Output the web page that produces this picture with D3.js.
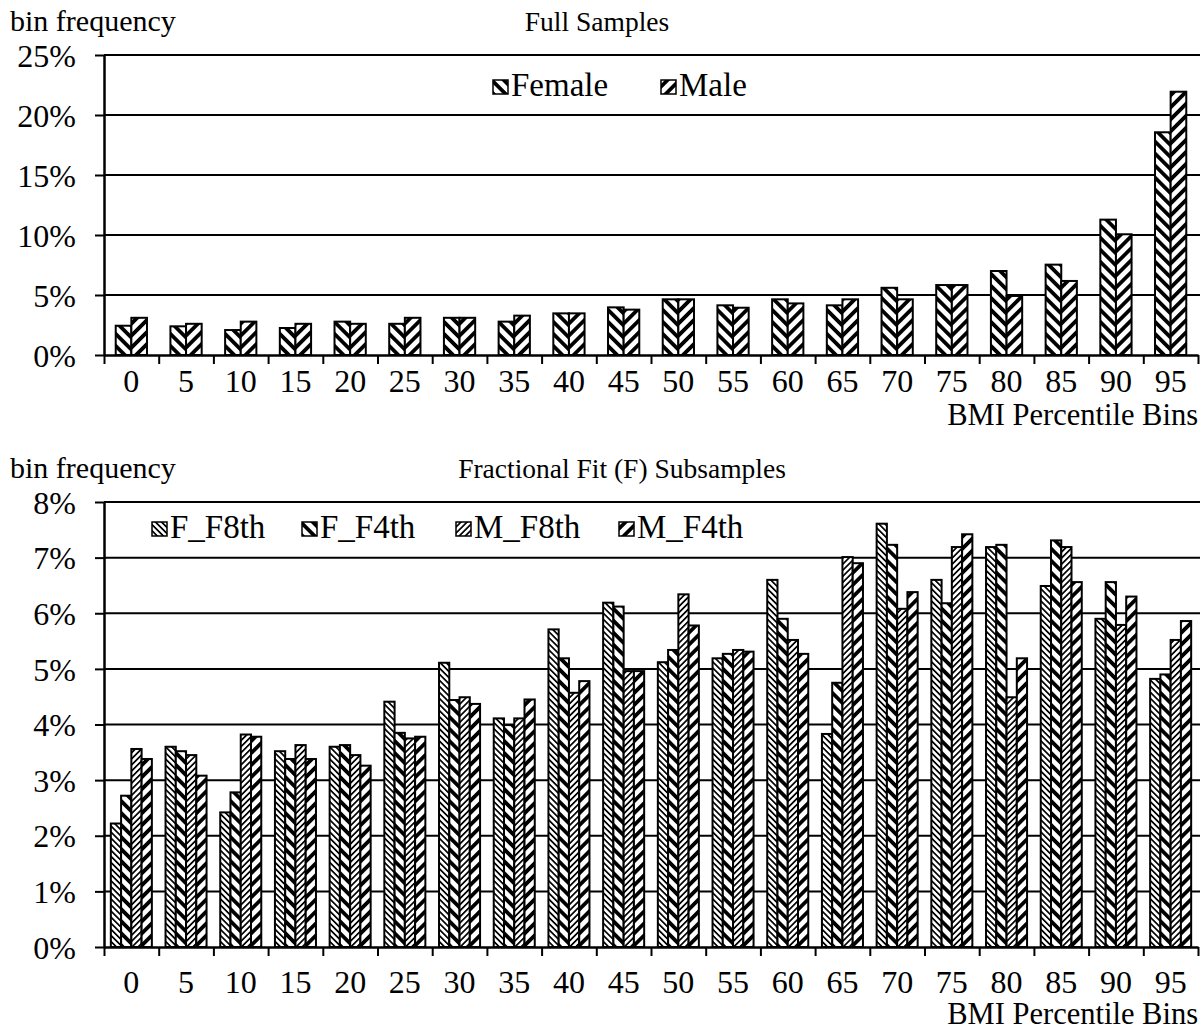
<!DOCTYPE html>
<html>
<head>
<meta charset="utf-8">
<script src="https://cdn.jsdelivr.net/npm/d3@7"></script>
<style>
  body { margin: 0; background: #fff; }
  svg text { font-family: "Liberation Serif", "Times New Roman", serif; fill: #000; }
</style>
</head>
<body>
<div id="chart"></div>
<script>
// BMI percentile bins (x categories)
const bins = [0, 5, 10, 15, 20, 25, 30, 35, 40, 45, 50, 55, 60, 65, 70, 75, 80, 85, 90, 95];

// Full samples, bin frequency in %
const fullFemale = [2.44, 2.39, 2.08, 2.25, 2.78, 2.6, 3.1, 2.78, 3.47, 3.97, 4.64, 4.14, 4.64, 4.14, 5.6, 5.83, 7.0, 7.53, 11.28, 18.56];
const fullMale = [3.1, 2.6, 2.78, 2.6, 2.6, 3.1, 3.1, 3.28, 3.47, 3.78, 4.64, 3.94, 4.3, 4.64, 4.64, 5.83, 4.92, 6.17, 10.06, 21.94];

// Fractional fit subsamples, bin frequency in %
const fF8th = [2.22, 3.6, 2.42, 3.52, 3.6, 4.41, 5.11, 4.11, 5.71, 6.19, 5.12, 5.19, 6.6, 3.83, 7.61, 6.6, 7.19, 6.49, 5.9, 4.82];
const fF4th = [2.72, 3.52, 2.78, 3.38, 3.63, 3.85, 4.44, 3.99, 5.19, 6.12, 5.34, 5.27, 5.9, 4.75, 7.23, 6.18, 7.23, 7.31, 6.56, 4.9];
const mF8th = [3.56, 3.45, 3.82, 3.63, 3.45, 3.75, 4.49, 4.11, 4.57, 4.96, 6.34, 5.34, 5.52, 7.01, 6.08, 7.19, 4.49, 7.19, 5.79, 5.52];
const mF4th = [3.38, 3.08, 3.78, 3.38, 3.26, 3.78, 4.37, 4.45, 4.78, 4.96, 5.78, 5.31, 5.27, 6.9, 6.38, 7.42, 5.19, 6.56, 6.3, 5.86];

const topTicks = [0, 5, 10, 15, 20, 25];
const bottomTicks = [0, 1, 2, 3, 4, 5, 6, 7, 8];

const width = 1203, height = 1030;
const left = 104, right = 1198;

const svg = d3.select("#chart").append("svg")
    .attr("width", width)
    .attr("height", height);

// hatch patterns: "\" = rotate(-45), "/" = rotate(45)
const defs = svg.append("defs");
function hatch(id, angle, period, thick) {
  const p = defs.append("pattern")
      .attr("id", id)
      .attr("patternUnits", "userSpaceOnUse")
      .attr("width", period)
      .attr("height", period)
      .attr("patternTransform", "rotate(" + angle + ")");
  p.append("rect").attr("width", period).attr("height", period).attr("fill", "#fff");
  p.append("rect").attr("width", thick).attr("height", period).attr("fill", "#000");
}
hatch("wideDown", -45, 8.5, 3.8);
hatch("wideUp", 45, 8.5, 3.8);
hatch("narrowDown", -45, 4.3, 1.7);
hatch("narrowUp", 45, 4.3, 1.7);

function drawPanel(opt) {
  const g = svg.append("g");

  const y = d3.scaleLinear().domain(opt.yDomain).range([opt.y0, opt.y1]);
  const x0 = d3.scaleBand().domain(bins).range([left, right]).padding(0);
  const groupW = x0.bandwidth() * opt.groupFrac;
  const x1 = d3.scaleBand().domain(opt.series.map(s => s.name)).range([0, groupW]);

  // gridlines
  g.append("g").selectAll("line")
    .data(opt.ticks.filter(t => t > 0))
    .enter().append("line")
      .attr("x1", left).attr("x2", right + 2)
      .attr("y1", d => y(d)).attr("y2", d => y(d))
      .attr("stroke", "#000").attr("stroke-width", 2);

  // y axis
  const yAxis = g.append("g")
      .attr("transform", "translate(" + left + ",0)")
      .call(d3.axisLeft(y).tickValues(opt.ticks).tickSize(9).tickSizeOuter(0).tickFormat(d => d + "%"));
  yAxis.select(".domain").attr("stroke-width", 2.5);
  yAxis.selectAll(".tick line").attr("stroke-width", 2);
  yAxis.selectAll(".tick text")
      .attr("x", -28).attr("dy", "0.35em")
      .style("font-size", "32px");

  // bars
  const groups = g.append("g").selectAll("g")
    .data(bins.map((b, i) => ({ bin: b, i: i })))
    .enter().append("g")
      .attr("transform", d => "translate(" + (x0(d.bin) + (x0.bandwidth() - groupW) / 2) + ",0)");

  groups.selectAll("rect")
    .data(d => opt.series.map(s => ({ name: s.name, fill: s.fill, v: s.values[d.i] })))
    .enter().append("rect")
      .attr("x", d => x1(d.name))
      .attr("width", x1.bandwidth())
      .attr("y", d => y(d.v))
      .attr("height", d => y(0) - y(d.v))
      .attr("fill", d => "url(#" + d.fill + ")")
      .attr("stroke", "#000")
      .attr("stroke-width", 2);

  // x axis with ticks at bin boundaries
  const xb = d3.scaleLinear().domain([0, bins.length]).range([left, right]);
  const xAxis = g.append("g")
      .attr("transform", "translate(0," + opt.y0 + ")")
      .call(d3.axisBottom(xb).ticks(bins.length).tickSize(9).tickSizeOuter(0).tickFormat(""));
  xAxis.select(".domain").attr("stroke-width", 2.5);
  xAxis.selectAll(".tick line").attr("stroke-width", 2);

  g.append("g").selectAll("text")
    .data(bins)
    .enter().append("text")
      .attr("x", d => x0(d) + x0.bandwidth() / 2)
      .attr("y", opt.labelY)
      .attr("text-anchor", "middle")
      .style("font-size", "32px")
      .text(d => d);

  g.append("text")
      .attr("x", right)
      .attr("y", opt.unitY)
      .attr("text-anchor", "end")
      .style("font-size", "30.5px")
      .text("BMI Percentile Bins");

  g.append("text")
      .attr("x", 10)
      .attr("y", opt.titleY)
      .style("font-size", "30px")
      .text("bin frequency");

  g.append("text")
      .attr("x", opt.titleX)
      .attr("y", opt.titleY)
      .attr("text-anchor", "middle")
      .style("font-size", "27.5px")
      .text(opt.title);

  // legend
  const leg = g.append("g").selectAll("g")
    .data(opt.series)
    .enter().append("g")
      .attr("transform", (d, i) => "translate(" + opt.legendX[i] + "," + opt.legendY + ")");
  leg.append("rect")
      .attr("x", 0).attr("y", -16)
      .attr("width", 15).attr("height", 14)
      .attr("fill", d => "url(#" + d.fill + ")")
      .attr("stroke", "#000")
      .attr("stroke-width", 1.5);
  leg.append("text")
      .attr("x", 18)
      .attr("y", 0)
      .style("font-size", "33px")
      .text(d => d.name);
}

drawPanel({
  title: "Full Samples",
  titleX: 597,
  titleY: 31,
  yDomain: [0, 25],
  ticks: topTicks,
  y0: 355,
  y1: 55,
  groupFrac: 2 / 3.5,
  labelY: 392,
  unitY: 425,
  legendX: [493, 661],
  legendY: 96,
  series: [
    { name: "Female", values: fullFemale, fill: "wideDown" },
    { name: "Male", values: fullMale, fill: "wideUp" }
  ]
});

drawPanel({
  title: "Fractional Fit (F) Subsamples",
  titleX: 622,
  titleY: 478,
  yDomain: [0, 8],
  ticks: bottomTicks,
  y0: 947,
  y1: 502,
  groupFrac: 0.75,
  labelY: 993,
  unitY: 1024,
  legendX: [152, 302, 456, 619],
  legendY: 538,
  series: [
    { name: "F_F8th", values: fF8th, fill: "narrowDown" },
    { name: "F_F4th", values: fF4th, fill: "wideDown" },
    { name: "M_F8th", values: mF8th, fill: "narrowUp" },
    { name: "M_F4th", values: mF4th, fill: "wideUp" }
  ]
});
</script>
</body>
</html>
